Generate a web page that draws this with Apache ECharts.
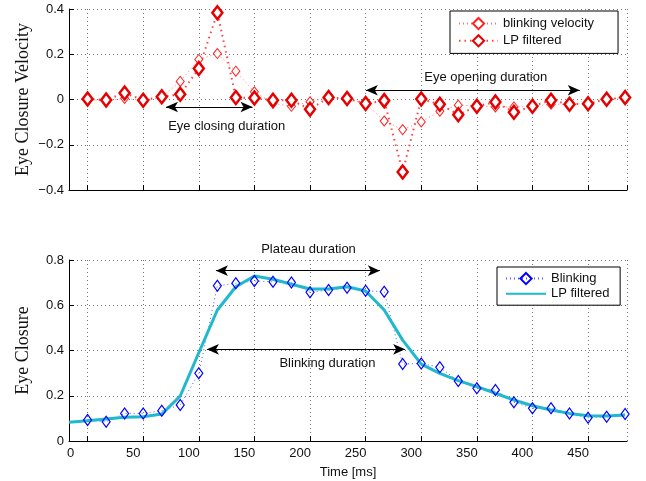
<!DOCTYPE html>
<html>
<head>
<meta charset="utf-8">
<script src="https://cdn.jsdelivr.net/npm/echarts@6/dist/echarts.min.js"></script>
<style>
html,body{margin:0;padding:0;background:#fff;}
#chart{width:646px;height:481px;}
</style>
</head>
<body>
<div id="chart"></div>
<script>
// sample times [ms]
var times = [0, 16.7, 33.3, 50, 66.7, 83.3, 100, 116.7, 133.3, 150, 166.7, 183.3, 200, 216.7, 233.3,
             250, 266.7, 283.3, 300, 316.7, 333.3, 350, 366.7, 383.3, 400, 416.7, 433.3, 450, 466.7, 483.3];
var lpTimes = [-16.7].concat(times);

// top panel: eye closure velocity
var blinkVelocity = [0.0, -0.005, 0.005, -0.005, 0.01, 0.08, 0.177, 0.203, 0.125, 0.034,
                     -0.017, -0.03, -0.01, 0.009, 0.004, -0.018, -0.095, -0.133, -0.099, -0.052,
                     -0.025, -0.027, -0.033, -0.033, -0.03, -0.021, -0.021, -0.018, 0.001, 0.009];
var lpVelocity = [0.002, -0.002, 0.029, -0.003, 0.012, 0.023, 0.137, 0.383, 0.009, 0.007,
                  -0.003, -0.003, -0.043, 0.009, 0.004, -0.018, -0.005, -0.320, 0.002, -0.021,
                  -0.067, -0.030, -0.011, -0.056, -0.030, -0.003, -0.021, -0.019, 0.001, 0.009];

// bottom panel: eye closure
var blinking = [0.093, 0.085, 0.122, 0.122, 0.134, 0.159, 0.299, 0.686, 0.697, 0.707,
                0.704, 0.701, 0.657, 0.667, 0.677, 0.664, 0.660, 0.340, 0.343, 0.326,
                0.265, 0.233, 0.225, 0.171, 0.145, 0.145, 0.122, 0.103, 0.107, 0.119];
var lpClosure = [0.083, 0.090, 0.097, 0.105, 0.107, 0.119, 0.199, 0.39, 0.579, 0.682, 0.729,
                 0.715, 0.693, 0.672, 0.672, 0.682, 0.663, 0.579, 0.446, 0.340, 0.299,
                 0.267, 0.240, 0.211, 0.181, 0.156, 0.137, 0.122, 0.112, 0.110, 0.115];

// annotation arrows: [start ms, end ms, level]
var closingArrow = [70.5, 148.3, -0.033];
var openingArrow = [250.2, 442.5, 0.041];
var plateauArrow = [115.4, 262.8, 0.753];
var blinkArrow = [107.3, 285.5, 0.405];

var xMin = -16.7, xMax = 485;

function pairs(xs, ys) { return xs.map(function (x, i) { return [x, ys[i]]; }); }

var FONT = 'Liberation Sans';
var gridLine = { show: true, lineStyle: { color: '#777', width: 1, type: [1, 3] } };

function xAxisCfg(gi, showLabels) {
  return {
    type: 'value', gridIndex: gi, min: xMin, max: xMax,
    splitNumber: 10, minInterval: 50, maxInterval: 50,
    axisLine: { show: true, onZero: false, lineStyle: { color: '#000', width: 1 } },
    axisTick: { show: true, inside: true, length: 5, lineStyle: { color: '#000' } },
    splitLine: gridLine,
    axisLabel: {
      show: showLabels, color: '#111', fontFamily: FONT, fontSize: 13, margin: 6,
      showMinLabel: false, showMaxLabel: false,
      formatter: function (v) { return v === 0 ? '{z|0}' : '{n|' + v + '}'; },
      rich: {
        z: { fontFamily: FONT, fontSize: 13, color: '#111', padding: [0, 34, 0, 0] },
        n: { fontFamily: FONT, fontSize: 13, color: '#111', padding: [0, 20, 0, 0] }
      }
    },
    name: showLabels ? 'Time [ms]' : '',
    nameLocation: 'middle', nameGap: 25, nameMoveOverlap: false,
    nameTextStyle: { fontFamily: FONT, fontSize: 13, color: '#111' }
  };
}

function yAxisCfg(gi, mn, mx, title) {
  return {
    type: 'value', gridIndex: gi, min: mn, max: mx, interval: 0.2,
    axisLine: { show: true, onZero: false, lineStyle: { color: '#000', width: 1 } },
    axisTick: { show: true, inside: true, length: 5, lineStyle: { color: '#000' } },
    splitLine: gridLine,
    axisLabel: {
      color: '#111', fontFamily: FONT, fontSize: 13, margin: 5,
      formatter: function (v) {
        var r = Math.round(v * 10) / 10;
        if (r === 0) return '0';
        return (r < 0 ? '\u2212' : '') + Math.abs(r).toFixed(1);
      }
    },
    name: title, nameLocation: 'middle', nameGap: 37, nameRotate: 90, nameMoveOverlap: false,
    nameTextStyle: { fontFamily: 'Liberation Serif', fontSize: 18, color: '#111' }
  };
}

function arrow(a) {
  return {
    silent: true, symbol: ['arrow', 'arrow'], symbolSize: [8, 12],
    lineStyle: { color: '#000', width: 1.2, type: 'solid' },
    label: { show: false }, animation: false,
    data: [[{ coord: [a[0], a[2]] }, { coord: [a[1], a[2]] }]]
  };
}

function note(text, x, y) {
  return { type: 'text', x: x, y: y, style: { text: text, x: 0, y: 0, align: 'center', verticalAlign: 'middle', font: '13px "Liberation Sans"', fill: '#111' } };
}

var red = '#e60000';
var option = {
  animation: false,
  backgroundColor: '#fff',
  grid: [
    { left: 69, right: 19, top: 9, height: 181 },
    { left: 69, right: 19, top: 260, height: 181 }
  ],
  xAxis: [xAxisCfg(0, false), xAxisCfg(1, true)],
  yAxis: [yAxisCfg(0, -0.4, 0.4, 'Eye Closure Velocity'), yAxisCfg(1, 0, 0.8, 'Eye Closure')],
  legend: [
    {
      data: ['blinking velocity', 'LP filtered'],
      orient: 'vertical', left: 450, top: 11,
      backgroundColor: '#fff', borderColor: '#000', borderWidth: 1, borderRadius: 0,
      padding: [6, 24, 6, 8], itemGap: 4, itemWidth: 39, itemHeight: 14,
      textStyle: { fontFamily: FONT, fontSize: 13, color: '#111' },
      selectedMode: false
    },
    {
      data: ['Blinking', { name: 'LP filtered ', itemStyle: { opacity: 0 } }],
      orient: 'vertical', left: 497, top: 267,
      backgroundColor: '#fff', borderColor: '#000', borderWidth: 1, borderRadius: 0,
      padding: [5, 7, 5, 8], itemGap: 2, itemWidth: 40, itemHeight: 14,
      textStyle: { fontFamily: FONT, fontSize: 13, color: '#111' },
      selectedMode: false
    }
  ],
  series: [
    {
      name: 'blinking velocity', type: 'line', xAxisIndex: 0, yAxisIndex: 0,
      data: pairs(times, blinkVelocity),
      symbol: 'diamond', symbolSize: [8, 10], showSymbol: true,
      itemStyle: { color: '#fff', borderColor: '#ff2020', borderWidth: 1 },
      lineStyle: { color: '#ff7070', width: 1, type: [1, 3] },
      markLine: arrow(closingArrow)
    },
    {
      name: 'LP filtered', type: 'line', xAxisIndex: 0, yAxisIndex: 0,
      data: pairs(times, lpVelocity),
      symbol: 'diamond', symbolSize: [10, 13],
      itemStyle: { color: '#fff', borderColor: red, borderWidth: 2.5 },
      lineStyle: { color: '#ff4040', width: 2, type: [1.5, 4] },
      markLine: arrow(openingArrow)
    },
    {
      name: 'Blinking', type: 'line', xAxisIndex: 1, yAxisIndex: 1,
      data: pairs(times, blinking),
      symbol: 'diamond', symbolSize: [8, 11],
      itemStyle: { color: 'rgba(255,255,255,0)', borderColor: '#0000ff', borderWidth: 1.2 },
      lineStyle: { color: '#5a5aff', width: 1, type: [1, 3] },
      markLine: arrow(plateauArrow)
    },
    {
      name: 'LP filtered ', type: 'line', xAxisIndex: 1, yAxisIndex: 1,
      data: pairs(lpTimes, lpClosure),
      symbol: 'none', showSymbol: false,
      itemStyle: { color: '#1fb8cc' },
      lineStyle: { color: '#1fb8cc', width: 3 },
      markLine: arrow(blinkArrow)
    }
  ],
  graphic: [
    note('Eye closing duration', 226.7, 126),
    note('Eye opening duration', 485.7, 77.7),
    note('Plateau duration', 308.5, 249.3),
    note('Blinking duration', 327.5, 363.3)
  ]
};

var chart = echarts.init(document.getElementById('chart'), null, { renderer: 'canvas' });
chart.setOption(option);
</script>
</body>
</html>
